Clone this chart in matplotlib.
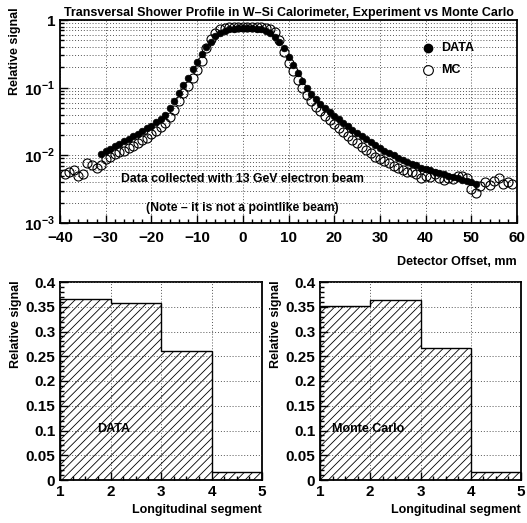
import numpy as np
import matplotlib
matplotlib.use("Agg")
import matplotlib.pyplot as plt
from matplotlib.ticker import FixedLocator, FixedFormatter, MultipleLocator, LogLocator, NullFormatter

plt.rcParams['font.family'] = ['Liberation Sans', 'DejaVu Sans']
plt.rcParams['font.weight'] = 'bold'
plt.rcParams['mathtext.fontset'] = 'custom'
plt.rcParams['mathtext.rm'] = 'Liberation Sans:bold'
plt.rcParams['mathtext.bf'] = 'Liberation Sans:bold'
plt.rcParams['hatch.linewidth'] = 0.6

# ---- transversal profile (log10 of relative signal) ----
data_x = list(range(-31, 52))
data_log = [-1.98, -1.93, -1.90, -1.86, -1.83, -1.79, -1.76, -1.72, -1.68, -1.64,
            -1.60, -1.56, -1.51, -1.46, -1.40, -1.30, -1.20, -1.08, -0.96, -0.85,
            -0.73, -0.62, -0.50, -0.40, -0.32, -0.24, -0.19, -0.16, -0.14, -0.13,
            -0.12, -0.12, -0.12, -0.12, -0.13, -0.14, -0.16, -0.19, -0.25, -0.32,
            -0.42, -0.55, -0.66, -0.78, -0.90, -1.00, -1.09, -1.17, -1.24, -1.30,
            -1.36, -1.42, -1.47, -1.52, -1.57, -1.62, -1.67, -1.71, -1.76, -1.80,
            -1.85, -1.89, -1.93, -1.97, -2.00, -2.04, -2.07, -2.10, -2.13, -2.15,
            -2.18, -2.20, -2.22, -2.24, -2.26, -2.28, -2.30, -2.32, -2.34, -2.36,
            -2.38, -2.40, -2.43]

mc_x = list(range(-39, 60))
mc_log = [-2.28, -2.25, -2.22, -2.30, -2.28, -2.12, -2.14, -2.18, -2.14, -2.06,
          -2.02, -1.98, -1.95, -1.93, -1.89, -1.86, -1.82, -1.78, -1.74, -1.69,
          -1.64, -1.58, -1.52, -1.44, -1.33, -1.20, -1.08, -0.97, -0.85, -0.74,
          -0.60, -0.42, -0.28, -0.19, -0.14, -0.12, -0.11, -0.10, -0.10, -0.10,
          -0.10, -0.10, -0.10, -0.11, -0.12, -0.14, -0.18, -0.30, -0.48, -0.63,
          -0.76, -0.89, -1.01, -1.11, -1.20, -1.28, -1.35, -1.42, -1.48, -1.54,
          -1.60, -1.66, -1.72, -1.77, -1.82, -1.87, -1.92, -1.97, -2.02, -2.05,
          -2.09, -2.12, -2.16, -2.19, -2.21, -2.25, -2.24, -2.28, -2.33, -2.30,
          -2.32, -2.28, -2.34, -2.36, -2.34, -2.35, -2.31, -2.30, -2.34, -2.50,
          -2.55, -2.45, -2.40, -2.44, -2.38, -2.33, -2.42, -2.40, -2.42]

# ---- longitudinal profile ----
seg_edges = [1, 2, 3, 4, 5]
seg_data = [0.365, 0.357, 0.260, 0.017]
seg_mc = [0.352, 0.363, 0.267, 0.016]

W, H = 527, 523
fig = plt.figure(figsize=(W / 100, H / 100), dpi=100)


def px_axes(x0, y0, x1, y1):
    # axes from pixel box (top-left origin)
    return fig.add_axes([x0 / W, 1 - y1 / H, (x1 - x0) / W, (y1 - y0) / H])


def style(ax):
    for s in ax.spines.values():
        s.set_linewidth(1.3)
    ax.tick_params(which='both', direction='in', top=False, right=False,
                   labelsize=11, width=1)
    ax.tick_params(which='major', length=6)
    ax.tick_params(which='minor', length=3)
    for lab in ax.get_xticklabels() + ax.get_yticklabels():
        lab.set_fontweight('bold')


grid_kw = dict(color='#555555', linestyle=(0, (1, 2)), linewidth=0.7)

# ---------------- top panel ----------------
ax = px_axes(60, 20, 517, 223)
ax.set_yscale('log')
ax.set_xlim(-40, 60)
ax.set_ylim(1e-3, 1)
ax.plot(data_x, 10 ** np.array(data_log), 'o', color='black', ms=4.8,
        markeredgewidth=0.5, zorder=3)
ax.plot(mc_x, 10 ** np.array(mc_log), 'o', mfc='none', mec='black', ms=6.5,
        markeredgewidth=0.8, zorder=4)
ax.xaxis.set_minor_locator(MultipleLocator(2))
ax.set_xticks(range(-40, 61, 10))
ax.set_xticklabels(['\u221240', '\u221230', '\u221220', '\u221210', '0', '10',
                    '20', '30', '40', '50', '60'])
ax.yaxis.set_major_locator(FixedLocator([1e-3, 1e-2, 1e-1, 1]))
ax.yaxis.set_major_formatter(FixedFormatter([r'$10^{-3}$', r'$10^{-2}$',
                                             r'$10^{-1}$', '1']))
ax.yaxis.set_minor_locator(LogLocator(base=10, subs=np.arange(2, 10)))
ax.yaxis.set_minor_formatter(NullFormatter())
ax.grid(True, which='major', axis='x', **grid_kw)
ax.grid(True, which='both', axis='y', **grid_kw)
style(ax)
ax.tick_params(axis='x', which='major', pad=6)
ax.set_title('Transversal Shower Profile in W\u2013Si Calorimeter, Experiment vs Monte Carlo',
             fontsize=9, fontweight='bold', pad=3)
ax.set_ylabel('Relative signal', fontsize=9, fontweight='bold', loc='top')
ax.yaxis.set_label_coords(-0.085, 1.06)
ax.set_xlabel('Detector Offset, mm', fontsize=9, fontweight='bold', loc='right', labelpad=8)

# legend drawn as markers + text in axes fraction
ax.plot([0.805], [0.86], 'o', color='black', ms=6, transform=ax.transAxes, clip_on=False)
ax.text(0.835, 0.86, 'DATA', transform=ax.transAxes, va='center', fontsize=9,
        fontweight='bold')
ax.plot([0.805], [0.755], 'o', mfc='white', mec='black', ms=7, mew=0.8,
        transform=ax.transAxes, clip_on=False)
ax.text(0.835, 0.755, 'MC', transform=ax.transAxes, va='center', fontsize=9,
        fontweight='bold')

ax.text(0, 4.5e-3, 'Data collected with 13 GeV electron beam', ha='center',
        va='center', fontsize=8.8, fontweight='bold')
ax.text(0, 1.67e-3, '(Note \u2013 it is not a pointlike beam)', ha='center',
        va='center', fontsize=8.8, fontweight='bold')

# ---------------- bottom panels ----------------
panels = [((60, 282, 262, 480), seg_data, 'DATA', 1.73),
          ((320, 282, 521, 480), seg_mc, 'Monte Carlo', 1.24)]
for box, vals, label, tx in panels:
    bx = px_axes(*box)
    bx.stairs(vals, seg_edges, fill=True, facecolor='white', edgecolor='black',
              hatch='////', linewidth=0, zorder=2)
    bx.stairs(vals, seg_edges, baseline=0, fill=False, edgecolor='black',
              linewidth=1.0, zorder=3)
    bx.set_xlim(1, 5)
    bx.set_ylim(0, 0.4)
    bx.set_xticks([1, 2, 3, 4, 5])
    bx.set_yticks([0, 0.05, 0.1, 0.15, 0.2, 0.25, 0.3, 0.35, 0.4])
    bx.set_yticklabels(['0', '0.05', '0.1', '0.15', '0.2', '0.25', '0.3', '0.35', '0.4'])
    bx.yaxis.set_minor_locator(MultipleLocator(0.01))
    bx.xaxis.set_minor_locator(MultipleLocator(0.25))
    bx.grid(True, which='major', **grid_kw)
    bx.set_axisbelow(False)
    style(bx)
    bx.set_ylabel('Relative signal', fontsize=9, fontweight='bold', loc='top')
    bx.yaxis.set_label_coords(-0.19, 1.01)
    bx.set_xlabel('Longitudinal segment', fontsize=9, fontweight='bold', loc='right',
                  labelpad=4)
    bx.text(tx, 0.103, label, fontsize=9, fontweight='bold', va='center', zorder=5)

fig.savefig('out.png', dpi=100)
